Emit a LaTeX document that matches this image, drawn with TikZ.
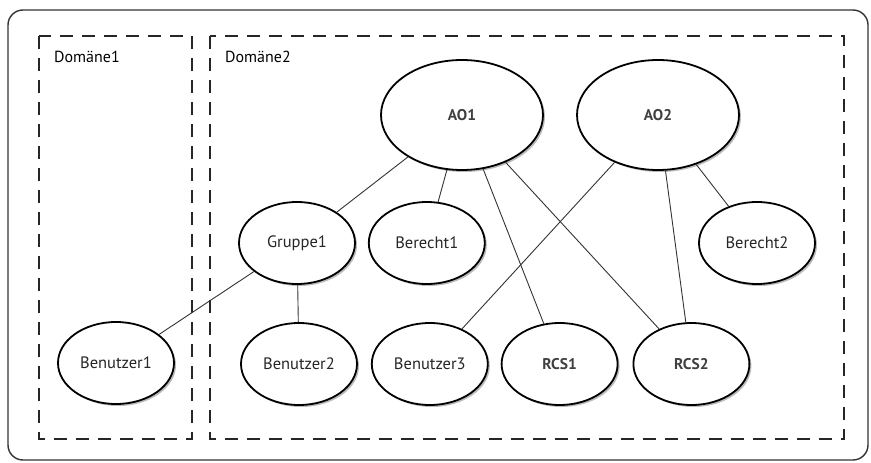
\documentclass[tikz,border=0pt]{standalone}
\usepackage{fontspec}
\setsansfont{PT Sans}
\usetikzlibrary{positioning,shapes.geometric,shadows}

\begin{document}
\begin{tikzpicture}[x=1pt,y=-1pt,
  ent/.style={ellipse,draw=black,line width=1.8pt,fill=white,
              minimum width=116pt,minimum height=82pt,inner sep=0pt,
              font=\sffamily\fontsize{16.5}{18}\selectfont,text=black!85,
              drop shadow={shadow xshift=2pt,shadow yshift=-2pt,opacity=0.45,fill=black!60}},
  obj/.style={ent,font=\sffamily\bfseries\fontsize{15.5}{18}\selectfont,text=black!75},
  big/.style={obj,minimum width=162pt,minimum height=110pt},
  dom/.style={draw=black!85,line width=2.6pt,dash pattern=on 13pt off 9pt},
  domlbl/.style={anchor=west,inner sep=0pt,font=\sffamily\fontsize{16}{18}\selectfont},
  lnk/.style={line width=0.9pt,black!80}
]
\useasboundingbox (0,0) rectangle (871,463);
\draw[line width=1.4pt,black!80,rounded corners=15pt] (8,10) rectangle (868,460);
% domains
\draw[dom] (39,36) rectangle (192,439);
\draw[dom] (210,36) rectangle (844,439);
\node[domlbl] (d1) at (54,57) {Domäne1};
\node[domlbl] (d2) at (225,57) {Domäne2};
% objects
\node[big] (ao1) at (462,115) {AO1};
\node[big] (ao2) at (658,115) {AO2};
\node[ent] (grp1) at (297,243) {Gruppe1};
\node[ent,right=12pt of grp1] (ber1) {Berecht1};
\node[ent] (ber2) at (757,243) {Berecht2};
\node[ent] (usr1) at (116,363) {Benutzer1};
\node[ent] (usr2) at (299,364) {Benutzer2};
\node[ent,right=13pt of usr2] (usr3) {Benutzer3};
\node[obj,right=12pt of usr3] (rcs1) {RCS1};
\node[obj,right=14pt of rcs1] (rcs2) {RCS2};
% links
\draw[lnk] (ao1)--(grp1); \draw[lnk] (ao1)--(ber1);
\draw[lnk] (ao1)--(rcs1); \draw[lnk] (ao1)--(rcs2);
\draw[lnk] (ao2)--(usr3); \draw[lnk] (ao2)--(rcs2); \draw[lnk] (ao2)--(ber2);
\draw[lnk] (grp1)--(usr1); \draw[lnk] (grp1)--(usr2);
\end{tikzpicture}
\end{document}
